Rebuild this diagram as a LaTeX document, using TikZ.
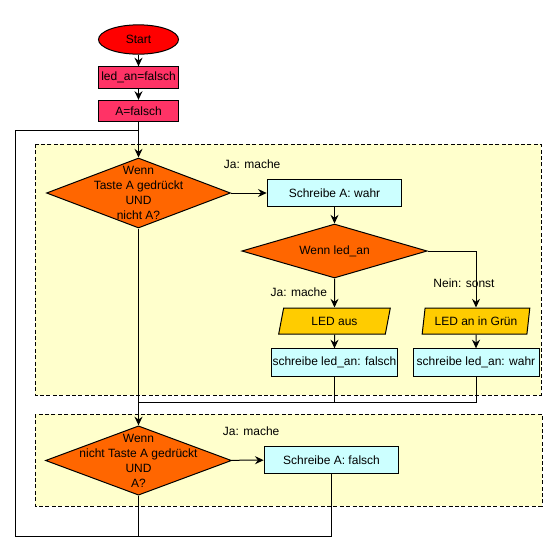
\documentclass[tikz,border=0pt]{standalone}
\usepackage{fontspec}
\setmainfont{Liberation Sans}
\usepackage{tikz}
\usetikzlibrary{shapes.geometric,arrows.meta}
\definecolor{startred}{HTML}{FF0000}
\definecolor{initred}{HTML}{FF3366}
\definecolor{decorange}{HTML}{FF6600}
\definecolor{procyan}{HTML}{CCFFFF}
\definecolor{iogold}{HTML}{FFCC00}
\definecolor{areayellow}{HTML}{FFFFCC}
\begin{document}
\begin{tikzpicture}[x=0.75pt, y=-0.75pt, line width=0.75pt,
					every node/.style={font=\fontsize{9pt}{11.2pt}\selectfont},
					startnode/.style={draw, ellipse, fill=startred, minimum width=60pt, minimum height=22pt, inner sep=0pt},
					initbox/.style={draw, rectangle, fill=initred, minimum width=60pt, minimum height=16pt, inner sep=0pt},
					decision/.style={draw, diamond, fill=decorange, inner sep=0pt},
					procbox/.style={draw, rectangle, fill=procyan, minimum height=20.5pt, inner sep=0pt},
					iobox/.style={draw, trapezium, trapezium stretches=true, trapezium left angle=75, trapezium right angle=105, fill=iogold, minimum width=84pt, minimum height=19.5pt, inner sep=0pt},
					area/.style={draw, dash pattern=on 3pt off 1.8pt, fill=areayellow},
					arr/.style={-{Stealth[length=6.5pt, width=6pt, inset=2.2pt]}}]
					\useasboundingbox (0,0) rectangle (557,551);
					%\draw (0,0) grid[step=50] (557,551);
					\draw[area] (35,144) rectangle (541,395);
					\draw[area] (35,414) rectangle (542,506);
					\node[startnode] (start) at (138.5,39.5) {Start};
					\node[initbox] (ledinit) at (138.5,77.5) {led\_an=falsch};
					\node[initbox] (ainit) at (138.5,111) {A=falsch};
					\node[decision, minimum width=138pt, minimum height=52.5pt,
						label={[align=center]center:Wenn\\Taste A gedrückt\\UND\\nicht A?}] (ifpress) at (138.5,193) {};
					\node[procbox, minimum width=101pt] (setAtrue) at (334.5,193) {Schreibe A: wahr};
					\node[decision, aspect=3.4, minimum width=139pt, minimum height=40.5pt] (ifled) at (334.5,251) {Wenn led\_an};
					\node[iobox] (ledoff) at (334.5,321) {LED aus};
					\node[iobox, minimum width=81pt] (ledon) at (476,321) {LED an in Grün};
					\node[procbox, minimum width=94pt] (setledfalse) at (334.5,362.5) {schreibe led\_an: falsch};
					\node[procbox, minimum width=94.5pt] (setledtrue) at (476,362.5) {schreibe led\_an: wahr};
					\node[decision, minimum width=139.5pt, minimum height=52pt,
						label={[align=center]center:Wenn\\nicht Taste A gedrückt\\UND\\A?}] (ifrelease) at (138.5,460.5) {};
					\node[procbox, minimum width=101pt] (setAfalse) at (331.5,460) {Schreibe A: falsch};
					\node[anchor=west] (yes1) at (219,164) {Ja: mache};
					\node[anchor=east] (yes2) at (332,292) {Ja: mache};
					\node (no2) at (464,283) {Nein: sonst};
					\node[anchor=west] (yes3) at (218,431) {Ja: mache};
					\coordinate (join) at (138.5,130);
					\coordinate (merge) at (138.5,402);
					\coordinate (loopend) at (15,536);
					\draw[arr] (start) -- (ledinit);
					\draw[arr] (ledinit) -- (ainit);
					\draw[arr] (ainit) -- (ifpress);
					\draw[arr] (ifpress) -- (setAtrue);
					\draw[arr] (setAtrue) -- (ifled);
					\draw[arr] (ifled) -- (ledoff);
					\draw[arr] (ifled.east) -| (ledon.north);
					\draw[arr] (ledoff) -- (setledfalse);
					\draw[arr] (ledon) -- (setledtrue);
					\draw (setledfalse.south) |- (merge);
					\draw (setledtrue.south) |- (merge);
					\draw[arr] (ifpress.south) -- (ifrelease.north);
					\draw[arr] (ifrelease) -- (setAfalse);
					\draw (setAfalse.south) |- (loopend);
					\draw (ifrelease.south) |- (loopend) |- (join);
				\end{tikzpicture}
\end{document}
